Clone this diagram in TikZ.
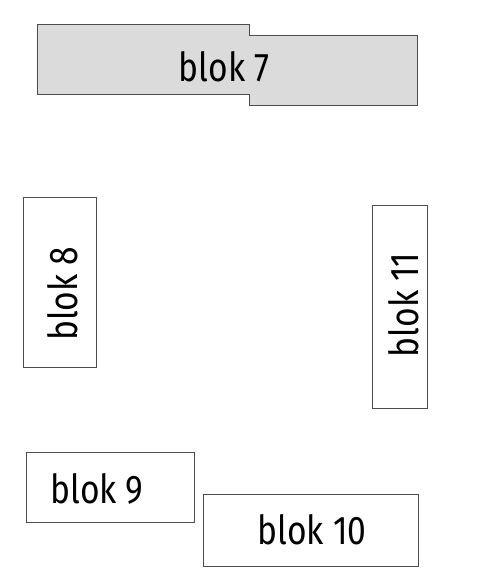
\documentclass[tikz,border=0pt]{standalone}
\usepackage{fontspec}
\setmainfont{Fira Sans}
\newcommand{\bloklabel}[1]{\scalebox{0.84}[1]{#1}}
\tikzset{x=1pt, y=-1pt,
    blokbox/.style={draw=black!70, line width=0.9pt, inner sep=0pt},
    bloktext/.style={inner sep=0pt, font=\fontsize{40}{46}\selectfont},
    }

\begin{document}
\begin{tikzpicture}
	\useasboundingbox (0,0) rectangle (477,570);
	% blok 7 (two offset halves, filled)
	\draw[blokbox, fill=black!14] (37,24) -- (249,24) -- (249,35) -- (417,35)
		-- (417,105) -- (249,105) -- (249,94) -- (37,94) -- cycle;
	\node[bloktext] (t7) at (224,67) {\bloklabel{blok 7}};
	% vertical blocks
	\node[blokbox, minimum width=73pt, minimum height=170pt] (b8) at (59.5,282) {};
	\node[bloktext, rotate=90] (t8) at (63,294) {\bloklabel{blok 8}};
	\node[blokbox, minimum width=55pt, minimum height=203pt] (b11) at (399.5,306.5) {};
	\node[bloktext, rotate=90] (t11) at (404,305) {\bloklabel{blok 11}};
	% bottom blocks
	\node[blokbox, minimum width=168pt, minimum height=70pt] (b9) at (110,487) {};
	\node[bloktext] (t9) at (97,489) {\bloklabel{blok 9}};
	\node[blokbox, minimum width=215pt, minimum height=72pt] (b10) at (310.5,530) {};
	\node[bloktext] (t10) at (312,530) {\bloklabel{blok 10}};
\end{tikzpicture}
\end{document}
